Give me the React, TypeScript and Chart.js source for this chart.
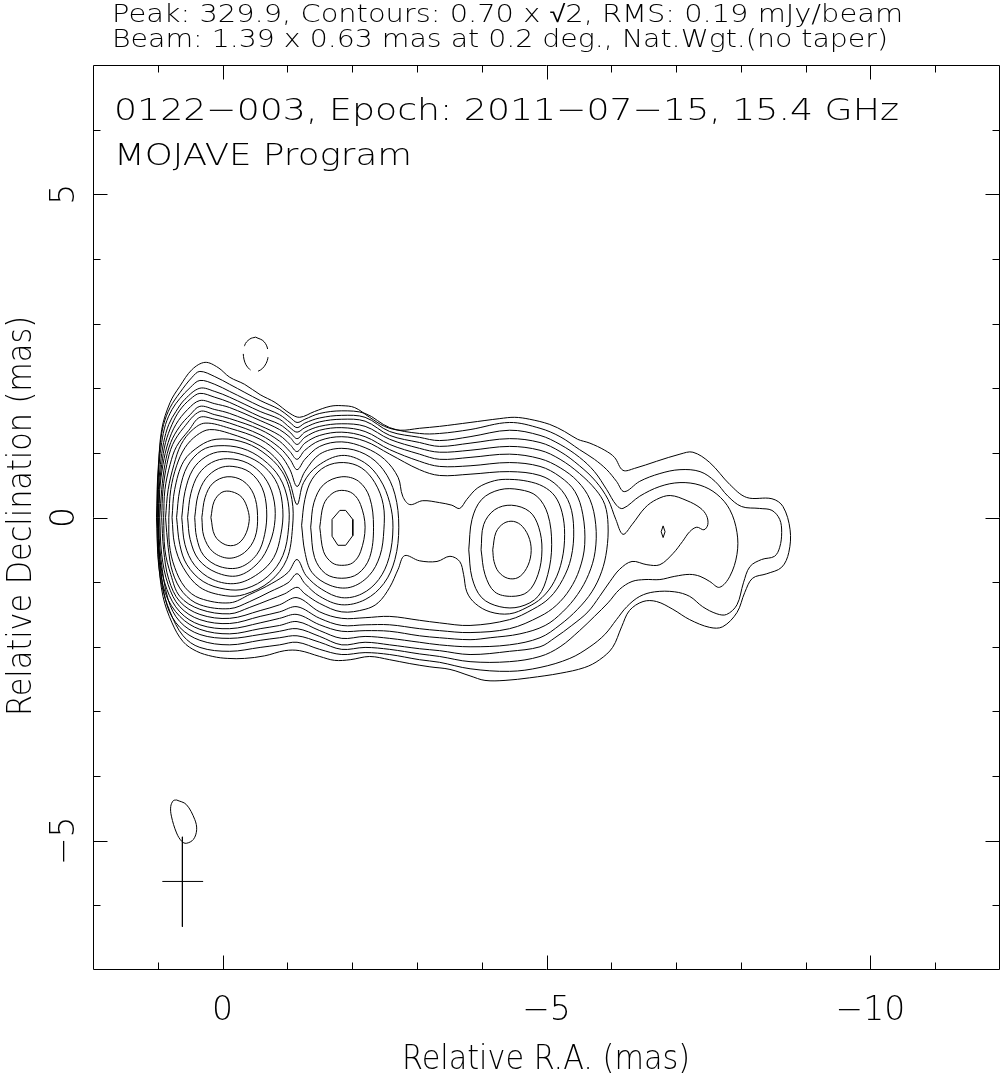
import React, { useEffect, useRef } from 'react';
import { Chart, registerables } from 'chart.js';

Chart.register(...registerables);

type P = [number, number];

// ---- Header / annotation texts ----
const headerLine1 = 'Peak: 329.9, Contours: 0.70 x √2, RMS: 0.19 mJy/beam';
const headerLine2 = 'Beam: 1.39 x 0.63 mas at 0.2 deg., Nat.Wgt.(no taper)';
const titleLine1 = '0122−003, Epoch: 2011−07−15, 15.4 GHz';
const titleLine2 = 'MOJAVE Program';
const xAxisTitle = 'Relative R.A. (mas)';
const yAxisTitle = 'Relative Declination (mas)';

// ---- Axis ranges and ticks (mas) ----
const xRange: P = [-12, 2];
const yRange: P = [-7, 7];
const xMajorTicks = [0, -5, -10];
const xTickLabels = ['0', '−5', '−10'];
const xMinorTicks = [1, -1, -2, -3, -4, -6, -7, -8, -9, -11];
const yMajorTicks = [5, 0, -5];
const yTickLabels = ['5', '0', '−5'];
const yMinorTicks = [6, 4, 3, 2, 1, -1, -2, -3, -4, -6];

// ---- Contours (relative R.A., relative Dec. in mas) ----
// envelope levels 0..10
const contourL0: P[] = [[1.02,0.00],[0.99,0.74],[0.94,1.36],[0.81,1.78],[0.66,2.03],[0.47,2.29],[0.27,2.40],[0.07,2.32],[-0.11,2.17],[-0.34,2.06],[-0.58,1.90],[-0.81,1.78],[-1.04,1.61],[-1.19,1.55],[-1.42,1.64],[-1.66,1.72],[-1.84,1.73],[-2.04,1.70],[-2.27,1.55],[-2.50,1.41],[-2.74,1.35],[-3.04,1.38],[-3.35,1.41],[-3.82,1.47],[-4.28,1.53],[-4.51,1.55],[-4.74,1.52],[-5.05,1.44],[-5.28,1.33],[-5.48,1.21],[-5.67,1.15],[-5.90,1.04],[-6.05,0.93],[-6.18,0.73],[-6.36,0.76],[-6.70,0.87],[-7.06,0.98],[-7.26,1.01],[-7.52,0.85],[-7.83,0.51],[-8.09,0.31],[-8.48,0.29],[-8.65,0.17],[-8.76,-0.19],[-8.74,-0.54],[-8.63,-0.77],[-8.40,-0.87],[-8.18,-0.94],[-8.06,-1.16],[-7.94,-1.47],[-7.72,-1.69],[-7.52,-1.70],[-7.21,-1.58],[-6.95,-1.42],[-6.70,-1.30],[-6.49,-1.30],[-6.28,-1.44],[-6.16,-1.69],[-6.02,-2.01],[-5.82,-2.20],[-5.59,-2.32],[-5.21,-2.41],[-4.74,-2.48],[-4.36,-2.52],[-4.05,-2.52],[-3.82,-2.45],[-3.51,-2.35],[-3.20,-2.31],[-2.89,-2.26],[-2.58,-2.20],[-2.27,-2.15],[-1.97,-2.20],[-1.73,-2.21],[-1.50,-2.15],[-1.19,-2.06],[-0.96,-2.06],[-0.65,-2.14],[-0.34,-2.18],[-0.08,-2.18],[0.15,-2.15],[0.40,-2.07],[0.61,-1.92],[0.78,-1.63],[0.92,-1.22],[0.99,-0.65]];
const contourL1: P[] = [[1.01,0.00],[1.01,0.43],[0.99,0.82],[0.96,1.16],[0.91,1.44],[0.81,1.70],[0.66,1.93],[0.47,2.17],[0.35,2.26],[0.12,2.18],[-0.11,2.06],[-0.58,1.81],[-0.88,1.67],[-1.04,1.55],[-1.15,1.47],[-1.27,1.52],[-1.50,1.61],[-1.84,1.65],[-2.20,1.61],[-2.58,1.39],[-3.04,1.30],[-3.35,1.30],[-3.82,1.36],[-4.43,1.47],[-4.90,1.38],[-5.21,1.25],[-5.51,1.05],[-5.74,0.90],[-5.93,0.74],[-6.08,0.56],[-6.20,0.40],[-6.44,0.56],[-6.75,0.68],[-7.06,0.74],[-7.37,0.71],[-7.60,0.56],[-7.80,0.33],[-8.01,0.17],[-8.29,0.14],[-8.48,0.11],[-8.60,-0.03],[-8.63,-0.23],[-8.60,-0.46],[-8.52,-0.60],[-8.32,-0.65],[-8.14,-0.76],[-8.04,-1.01],[-7.94,-1.35],[-7.78,-1.50],[-7.63,-1.49],[-7.41,-1.38],[-7.21,-1.22],[-6.98,-1.15],[-6.67,-1.15],[-6.44,-1.22],[-6.24,-1.38],[-6.08,-1.58],[-5.90,-1.81],[-5.67,-2.00],[-5.36,-2.18],[-4.90,-2.32],[-4.43,-2.38],[-3.82,-2.34],[-3.35,-2.24],[-3.04,-2.20],[-2.58,-2.12],[-2.20,-2.09],[-1.84,-2.12],[-1.50,-2.04],[-1.15,-1.93],[-0.88,-1.97],[-0.58,-2.01],[-0.11,-2.07],[0.35,-2.01],[0.61,-1.83],[0.81,-1.46],[0.94,-1.04],[1.00,-0.57]];
const contourL2: P[] = [[1.01,0.00],[1.00,0.43],[0.98,0.82],[0.94,1.16],[0.88,1.44],[0.78,1.67],[0.66,1.84],[0.50,2.01],[0.35,2.12],[0.12,2.06],[-0.11,1.95],[-0.58,1.72],[-0.88,1.59],[-1.04,1.47],[-1.15,1.39],[-1.27,1.46],[-1.50,1.54],[-1.84,1.58],[-2.20,1.55],[-2.58,1.33],[-3.04,1.24],[-3.35,1.19],[-3.82,1.25],[-4.43,1.35],[-4.90,1.27],[-5.21,1.13],[-5.51,0.93],[-5.74,0.71],[-5.93,0.43],[-6.08,0.19],[-6.18,0.14],[-6.44,0.33],[-6.75,0.48],[-7.06,0.54],[-7.37,0.50],[-7.63,0.36],[-7.83,0.12],[-7.94,-0.23],[-7.94,-0.57],[-7.83,-0.91],[-7.67,-1.08],[-7.52,-0.99],[-7.37,-0.91],[-7.21,-0.88],[-6.98,-0.91],[-6.75,-0.96],[-6.52,-0.96],[-6.32,-0.99],[-6.13,-1.11],[-5.95,-1.32],[-5.74,-1.53],[-5.51,-1.75],[-5.21,-2.00],[-4.90,-2.15],[-4.43,-2.23],[-3.82,-2.23],[-3.35,-2.15],[-3.04,-2.11],[-2.58,-2.04],[-2.20,-2.01],[-1.84,-2.04],[-1.50,-1.93],[-1.15,-1.83],[-0.88,-1.86],[-0.58,-1.90],[-0.11,-1.97],[0.35,-1.90],[0.66,-1.70],[0.86,-1.35],[0.97,-0.65]];
const contourL3: P[] = [[1.00,0.00],[0.99,0.43],[0.96,0.82],[0.91,1.16],[0.83,1.44],[0.72,1.64],[0.58,1.83],[0.35,2.00],[0.12,1.95],[-0.11,1.86],[-0.58,1.64],[-0.88,1.52],[-1.04,1.39],[-1.15,1.32],[-1.27,1.39],[-1.50,1.48],[-1.84,1.52],[-2.20,1.49],[-2.58,1.27],[-3.04,1.16],[-3.35,1.10],[-3.82,1.15],[-4.43,1.22],[-4.90,1.16],[-5.21,1.02],[-5.51,0.80],[-5.76,0.56],[-5.95,0.28],[-6.07,-0.03],[-6.18,-0.26],[-6.32,-0.11],[-6.52,0.15],[-6.70,0.28],[-6.91,0.34],[-7.17,0.26],[-7.37,0.15],[-7.47,0.03],[-7.49,-0.11],[-7.43,-0.19],[-7.32,-0.15],[-7.21,-0.22],[-7.10,-0.37],[-6.95,-0.56],[-6.75,-0.73],[-6.55,-0.73],[-6.32,-0.68],[-6.13,-0.80],[-5.98,-0.99],[-5.82,-1.22],[-5.64,-1.46],[-5.39,-1.67],[-5.13,-1.86],[-4.90,-2.00],[-4.43,-2.07],[-3.82,-2.12],[-3.35,-2.06],[-3.04,-2.03],[-2.58,-1.97],[-2.20,-1.93],[-1.84,-1.97],[-1.50,-1.84],[-1.15,-1.72],[-0.88,-1.76],[-0.58,-1.81],[-0.11,-1.87],[0.35,-1.81],[0.66,-1.61],[0.84,-1.27],[0.95,-0.65]];
const contourL4: P[] = [[0.99,0.00],[0.98,0.43],[0.94,0.82],[0.88,1.16],[0.78,1.44],[0.66,1.66],[0.50,1.83],[0.35,1.92],[0.12,1.86],[-0.11,1.78],[-0.58,1.56],[-0.88,1.44],[-1.04,1.32],[-1.15,1.22],[-1.27,1.32],[-1.50,1.41],[-1.84,1.45],[-2.20,1.41],[-2.58,1.21],[-3.04,1.07],[-3.35,1.01],[-3.82,1.04],[-4.43,1.10],[-4.90,1.04],[-5.21,0.90],[-5.51,0.68],[-5.76,0.43],[-5.90,0.20],[-5.95,-0.11],[-5.93,-0.50],[-5.85,-0.84],[-5.70,-1.15],[-5.48,-1.42],[-5.21,-1.66],[-4.90,-1.86],[-4.43,-1.97],[-3.82,-2.00],[-3.35,-1.97],[-3.04,-1.93],[-2.58,-1.87],[-2.20,-1.84],[-1.84,-1.87],[-1.50,-1.75],[-1.15,-1.61],[-0.88,-1.67],[-0.58,-1.72],[-0.11,-1.80],[0.35,-1.73],[0.66,-1.53],[0.88,-1.18],[0.98,-0.65]];
const contourL4Knot: P[] = [[-6.80,-0.13],[-6.83,-0.22],[-6.80,-0.31],[-6.77,-0.22]];
const contourL5: P[] = [[0.98,0.00],[0.97,0.43],[0.92,0.82],[0.84,1.16],[0.72,1.44],[0.54,1.67],[0.35,1.81],[0.12,1.76],[-0.11,1.70],[-0.58,1.50],[-0.88,1.36],[-1.04,1.24],[-1.15,1.13],[-1.27,1.24],[-1.50,1.35],[-1.84,1.39],[-2.20,1.33],[-2.58,1.13],[-3.04,0.98],[-3.35,0.90],[-3.82,0.93],[-4.43,0.98],[-4.90,0.91],[-5.21,0.77],[-5.48,0.56],[-5.67,0.28],[-5.76,-0.11],[-5.75,-0.53],[-5.65,-0.88],[-5.48,-1.19],[-5.25,-1.46],[-4.98,-1.67],[-4.59,-1.80],[-4.13,-1.86],[-3.82,-1.89],[-3.35,-1.86],[-3.04,-1.83],[-2.58,-1.76],[-2.20,-1.75],[-1.84,-1.76],[-1.50,-1.66],[-1.15,-1.50],[-0.88,-1.56],[-0.58,-1.63],[-0.11,-1.72],[0.35,-1.66],[0.66,-1.46],[0.86,-1.11],[0.97,-0.62]];
const contourL6: P[] = [[0.97,0.00],[0.94,0.43],[0.89,0.82],[0.80,1.16],[0.66,1.41],[0.50,1.59],[0.35,1.72],[0.12,1.67],[-0.11,1.61],[-0.58,1.42],[-0.88,1.27],[-1.04,1.13],[-1.15,1.02],[-1.27,1.15],[-1.50,1.27],[-1.84,1.32],[-2.20,1.25],[-2.58,1.05],[-3.04,0.87],[-3.35,0.79],[-3.82,0.80],[-4.43,0.85],[-4.90,0.79],[-5.21,0.63],[-5.44,0.40],[-5.56,0.05],[-5.59,-0.42],[-5.51,-0.80],[-5.36,-1.11],[-5.15,-1.36],[-4.90,-1.53],[-4.43,-1.72],[-3.82,-1.78],[-3.35,-1.75],[-3.04,-1.72],[-2.58,-1.66],[-2.20,-1.66],[-1.84,-1.67],[-1.50,-1.56],[-1.15,-1.38],[-0.88,-1.46],[-0.58,-1.53],[-0.11,-1.64],[0.35,-1.58],[0.66,-1.38],[0.84,-1.04],[0.94,-0.57]];
const contourL7: P[] = [[0.94,0.00],[0.92,0.43],[0.86,0.82],[0.77,1.13],[0.60,1.39],[0.35,1.64],[0.12,1.59],[-0.11,1.53],[-0.58,1.36],[-0.88,1.18],[-1.04,1.02],[-1.15,0.90],[-1.27,1.04],[-1.50,1.19],[-1.84,1.25],[-2.20,1.18],[-2.58,0.98],[-3.04,0.74],[-3.35,0.65],[-3.82,0.67],[-4.43,0.71],[-4.90,0.65],[-5.18,0.48],[-5.36,0.20],[-5.42,-0.19],[-5.38,-0.62],[-5.25,-0.96],[-5.05,-1.24],[-4.79,-1.42],[-4.43,-1.58],[-3.82,-1.67],[-3.35,-1.63],[-3.04,-1.59],[-2.58,-1.53],[-2.20,-1.55],[-1.84,-1.56],[-1.50,-1.46],[-1.15,-1.24],[-0.88,-1.35],[-0.58,-1.44],[-0.11,-1.56],[0.35,-1.50],[0.66,-1.30],[0.83,-0.96],[0.91,-0.50]];
const contourL8: P[] = [[0.91,0.00],[0.89,0.43],[0.81,0.82],[0.71,1.10],[0.52,1.35],[0.35,1.55],[0.12,1.52],[-0.11,1.46],[-0.58,1.28],[-0.88,1.08],[-1.04,0.90],[-1.15,0.74],[-1.27,0.90],[-1.50,1.10],[-1.84,1.17],[-2.20,1.08],[-2.50,0.90],[-2.71,0.62],[-2.78,0.33],[-2.89,0.20],[-3.09,0.26],[-3.35,0.23],[-3.54,0.19],[-3.66,0.14],[-3.77,0.28],[-3.94,0.46],[-4.20,0.57],[-4.43,0.59],[-4.71,0.56],[-4.95,0.48],[-5.13,0.33],[-5.24,0.08],[-5.28,-0.26],[-5.24,-0.65],[-5.12,-0.99],[-4.93,-1.24],[-4.70,-1.39],[-4.43,-1.49],[-4.13,-1.46],[-3.90,-1.33],[-3.77,-1.15],[-3.72,-0.88],[-3.66,-0.68],[-3.51,-0.60],[-3.31,-0.68],[-3.04,-0.67],[-2.81,-0.59],[-2.71,-0.80],[-2.58,-1.08],[-2.40,-1.32],[-2.20,-1.42],[-1.84,-1.46],[-1.50,-1.33],[-1.27,-1.18],[-1.15,-1.08],[-0.96,-1.18],[-0.73,-1.27],[-0.42,-1.39],[-0.11,-1.49],[0.35,-1.42],[0.66,-1.22],[0.80,-0.88],[0.89,-0.50]];
const contourL9: P[] = [[0.88,0.00],[0.84,0.43],[0.75,0.82],[0.64,1.13],[0.47,1.35],[0.27,1.46],[-0.11,1.38],[-0.58,1.21],[-0.88,0.98],[-1.04,0.74],[-1.15,0.48],[-1.27,0.71],[-1.50,0.98],[-1.84,1.07],[-2.20,0.98],[-2.48,0.74],[-2.66,0.36],[-2.72,-0.15],[-2.66,-0.65],[-2.49,-1.02],[-2.20,-1.27],[-1.84,-1.35],[-1.50,-1.22],[-1.27,-1.02],[-1.15,-0.87],[-1.01,-1.01],[-0.73,-1.15],[-0.42,-1.30],[-0.11,-1.41],[0.35,-1.35],[0.61,-1.16],[0.77,-0.85],[0.84,-0.46]];
const contourL10: P[] = [[0.83,0.00],[0.80,0.43],[0.71,0.80],[0.58,1.08],[0.40,1.27],[0.20,1.36],[-0.11,1.30],[-0.58,1.11],[-0.86,0.87],[-1.03,0.56],[-1.15,0.20],[-1.25,0.54],[-1.47,0.80],[-1.84,0.96],[-2.19,0.85],[-2.43,0.59],[-2.58,0.23],[-2.63,-0.15],[-2.57,-0.62],[-2.41,-0.96],[-2.15,-1.18],[-1.84,-1.24],[-1.53,-1.11],[-1.29,-0.90],[-1.15,-0.65],[-1.01,-0.85],[-0.76,-1.02],[-0.42,-1.19],[-0.11,-1.32],[0.35,-1.25],[0.58,-1.08],[0.74,-0.77],[0.82,-0.42]];
// core rings, levels 11..17
const coreL11: P[] = [[0.78,0.00],[0.74,0.43],[0.60,0.87],[0.35,1.11],[0.10,1.21],[-0.27,1.18],[-0.61,1.02],[-0.92,0.71],[-1.07,0.28],[-1.08,-0.15],[-0.99,-0.65],[-0.73,-0.99],[-0.34,-1.19],[-0.04,-1.21],[0.35,-1.08],[0.61,-0.77],[0.74,-0.42]];
const coreL12: P[] = [[0.71,0.00],[0.66,0.43],[0.54,0.80],[0.32,1.04],[0.07,1.11],[-0.30,1.07],[-0.62,0.90],[-0.88,0.62],[-1.01,0.25],[-1.02,-0.15],[-0.93,-0.59],[-0.70,-0.91],[-0.36,-1.10],[-0.05,-1.11],[0.30,-0.99],[0.55,-0.73],[0.66,-0.42]];
const coreL13: P[] = [[0.63,0.00],[0.58,0.40],[0.46,0.74],[0.26,0.94],[0.01,1.02],[-0.34,0.96],[-0.64,0.79],[-0.85,0.51],[-0.93,0.12],[-0.90,-0.26],[-0.79,-0.62],[-0.55,-0.87],[-0.21,-1.02],[0.15,-0.96],[0.43,-0.74],[0.58,-0.42]];
const coreL14: P[] = [[0.54,0.00],[0.49,0.37],[0.37,0.67],[0.17,0.85],[-0.08,0.91],[-0.39,0.84],[-0.64,0.63],[-0.78,0.33],[-0.81,-0.03],[-0.73,-0.39],[-0.55,-0.70],[-0.24,-0.90],[0.10,-0.85],[0.37,-0.65],[0.50,-0.34]];
const coreL15: P[] = [[0.43,0.00],[0.38,0.34],[0.26,0.60],[0.06,0.76],[-0.16,0.79],[-0.42,0.70],[-0.61,0.46],[-0.68,0.12],[-0.65,-0.26],[-0.53,-0.57],[-0.27,-0.77],[0.04,-0.76],[0.29,-0.59],[0.40,-0.31]];
const coreL16: P[] = [[0.32,0.00],[0.27,0.31],[0.15,0.53],[-0.07,0.63],[-0.31,0.57],[-0.48,0.36],[-0.54,0.03],[-0.50,-0.31],[-0.34,-0.54],[-0.10,-0.63],[0.15,-0.53],[0.29,-0.29]];
const coreL17: P[] = [[0.18,0.00],[0.13,0.25],[0.01,0.39],[-0.14,0.40],[-0.30,0.31],[-0.39,0.12],[-0.41,-0.06],[-0.34,-0.29],[-0.21,-0.42],[-0.04,-0.42],[0.12,-0.28]];
// component at -1.8 mas, levels 11..14
const knot2L11: P[] = [[-1.22,-0.12],[-1.27,0.28],[-1.38,0.59],[-1.59,0.79],[-1.87,0.85],[-2.14,0.77],[-2.35,0.54],[-2.48,0.20],[-2.49,-0.19],[-2.43,-0.59],[-2.26,-0.90],[-1.97,-1.08],[-1.66,-1.05],[-1.38,-0.85],[-1.27,-0.53]];
const knot2L12: P[] = [[-1.36,-0.15],[-1.41,0.23],[-1.56,0.51],[-1.84,0.63],[-2.10,0.56],[-2.27,0.31],[-2.33,-0.15],[-2.27,-0.62],[-2.09,-0.87],[-1.84,-0.94],[-1.59,-0.87],[-1.42,-0.62]];
const knot2L13: P[] = [[-1.50,-0.15],[-1.56,0.20],[-1.69,0.37],[-1.84,0.42],[-2.01,0.37],[-2.13,0.20],[-2.20,-0.15],[-2.13,-0.53],[-2.01,-0.70],[-1.84,-0.74],[-1.69,-0.70],[-1.56,-0.53]];
const knot2L14: P[] = [[-1.81,0.11],[-1.90,0.11],[-2.01,-0.03],[-2.01,-0.28],[-1.90,-0.43],[-1.78,-0.43],[-1.69,-0.29],[-1.69,-0.03]];
// component at -4.5 mas, levels 9..11
const knot3L9: P[] = [[-3.80,-0.50],[-3.85,-0.03],[-4.00,0.28],[-4.28,0.43],[-4.59,0.43],[-4.85,0.33],[-5.02,0.05],[-5.08,-0.42],[-5.02,-0.88],[-4.87,-1.22],[-4.59,-1.38],[-4.28,-1.38],[-4.00,-1.24],[-3.85,-0.93]];
const knot3L10: P[] = [[-3.99,-0.50],[-4.03,-0.11],[-4.20,0.12],[-4.46,0.19],[-4.74,0.09],[-4.88,-0.15],[-4.93,-0.50],[-4.87,-0.88],[-4.71,-1.15],[-4.46,-1.22],[-4.20,-1.15],[-4.05,-0.88]];
const knot3L11: P[] = [[-4.17,-0.50],[-4.22,-0.23],[-4.34,-0.09],[-4.49,-0.06],[-4.63,-0.14],[-4.74,-0.34],[-4.76,-0.57],[-4.69,-0.79],[-4.56,-0.93],[-4.40,-0.94],[-4.26,-0.84],[-4.19,-0.68]];
// negative (dashed) contour
const negativeContour: P[] = [[-0.51,2.79],[-0.64,2.72],[-0.70,2.57],[-0.67,2.38],[-0.54,2.26],[-0.42,2.29],[-0.33,2.45],[-0.34,2.66],[-0.42,2.76]];
// restoring beam and its cross
const beamEllipse: P[] = [[0.71,-4.37],[0.56,-4.44],[0.43,-4.67],[0.40,-4.83],[0.45,-4.98],[0.56,-5.04],[0.63,-5.01],[0.71,-4.88],[0.79,-4.62],[0.80,-4.47],[0.76,-4.38]];
const beamCrossV: P[] = [[0.62,-4.94],[0.62,-6.33]];
const beamCrossH: P[] = [[0.93,-5.63],[0.30,-5.63]];

const smoothClosed: P[][] = [
  contourL0, contourL1, contourL2, contourL3, contourL4, contourL5, contourL6,
  contourL7, contourL8, contourL9, contourL10,
  coreL11, coreL12, coreL13, coreL14, coreL15, coreL16, coreL17,
  knot2L11, knot2L12, knot2L13, knot3L9, knot3L10, knot3L11, beamEllipse,
];
const sharpClosed: P[][] = [knot2L14, contourL4Knot];

const FONT = '"DejaVu Sans", sans-serif';

function toPts(arr: P[], close: boolean) {
  const pts = arr.map(([x, y]) => ({ x, y }));
  if (close) pts.push({ x: arr[0][0], y: arr[0][1] });
  return pts;
}

function drawText(
  ctx: CanvasRenderingContext2D,
  text: string,
  x: number,
  y: number,
  size: number,
  opts: { width?: number; align?: 'left' | 'center'; rotate?: number } = {}
) {
  ctx.save();
  ctx.font = `200 ${size}px ${FONT}`;
  ctx.fillStyle = '#000';
  ctx.textBaseline = 'alphabetic';
  ctx.textAlign = 'left';
  const w = ctx.measureText(text).width;
  const sx = opts.width ? opts.width / w : 1;
  ctx.translate(x, y);
  if (opts.rotate) ctx.rotate(opts.rotate);
  ctx.scale(sx, 1);
  ctx.fillText(text, opts.align === 'center' ? -w / 2 : 0, 0);
  ctx.restore();
}

const framePlugin = {
  id: 'pgplotFrame',
  afterDraw(chart: any) {
    const { ctx, chartArea: a, scales } = chart;
    const xs = scales.x;
    const ys = scales.y;
    ctx.save();
    ctx.strokeStyle = '#000';
    ctx.lineWidth = 1;
    const L = a.left + 0.5, R = a.right - 0.5, T = a.top + 0.5, B = a.bottom - 0.5;
    ctx.beginPath();
    ctx.moveTo(L, T); ctx.lineTo(R, T); ctx.lineTo(R, B); ctx.lineTo(L, B); ctx.closePath();
    const major = 14, minor = 7;
    const xt = (v: number, len: number) => {
      const p = Math.round(xs.getPixelForValue(v)) + 0.5;
      ctx.moveTo(p, B); ctx.lineTo(p, B - len);
      ctx.moveTo(p, T); ctx.lineTo(p, T + len);
    };
    const yt = (v: number, len: number) => {
      const p = Math.round(ys.getPixelForValue(v)) + 0.5;
      ctx.moveTo(L, p); ctx.lineTo(L + len, p);
      ctx.moveTo(R, p); ctx.lineTo(R - len, p);
    };
    xMajorTicks.forEach((v) => xt(v, major));
    xMinorTicks.forEach((v) => xt(v, minor));
    yMajorTicks.forEach((v) => yt(v, major));
    yMinorTicks.forEach((v) => yt(v, minor));
    ctx.stroke();
    ctx.restore();

    xMajorTicks.forEach((v, i) => {
      drawText(ctx, xTickLabels[i], xs.getPixelForValue(v), 1020, 33, { align: 'center' });
    });
    yMajorTicks.forEach((v, i) => {
      drawText(ctx, yTickLabels[i], 74, ys.getPixelForValue(v), 33, { align: 'center', rotate: -Math.PI / 2 });
    });
    drawText(ctx, xAxisTitle, 546, 1069, 33, { align: 'center', width: 288 });
    drawText(ctx, yAxisTitle, 31, 516, 34, { align: 'center', width: 400, rotate: -Math.PI / 2 });
    drawText(ctx, headerLine1, 112, 22, 24, { width: 791 });
    drawText(ctx, headerLine2, 112, 47, 24, { width: 776 });
    drawText(ctx, titleLine1, 114, 120, 31, { width: 785 });
    drawText(ctx, titleLine2, 114, 165, 31, { width: 298 });
  },
};

export default function App() {
  const ref = useRef<HTMLCanvasElement>(null);
  useEffect(() => {
    const line = { borderColor: '#000', borderWidth: 1, pointRadius: 0, pointHoverRadius: 0, showLine: true, fill: false };
    const datasets: any[] = [
      ...smoothClosed.map((c) => ({ ...line, data: toPts(c, true), tension: 0.35 })),
      ...sharpClosed.map((c) => ({ ...line, data: toPts(c, true), tension: 0 })),
      { ...line, data: toPts(negativeContour, true), tension: 0.4, borderDash: [18, 8] },
      { ...line, data: toPts(beamCrossV, false), tension: 0 },
      { ...line, data: toPts(beamCrossH, false), tension: 0 },
    ];
    const chart = new Chart(ref.current as HTMLCanvasElement, {
      type: 'scatter',
      data: { datasets },
      options: {
        animation: false,
        responsive: false,
        devicePixelRatio: 1,
        events: [],
        layout: { padding: { left: 93, top: 65, right: 1, bottom: 109 } },
        plugins: { legend: { display: false }, tooltip: { enabled: false }, title: { display: false } },
        scales: {
          x: { type: 'linear', min: xRange[0], max: xRange[1], reverse: true, display: false },
          y: { type: 'linear', min: yRange[0], max: yRange[1], display: false },
        },
      },
      plugins: [framePlugin],
    } as any);
    return () => chart.destroy();
  }, []);
  return (
    <div style={{ position: 'absolute', left: 0, top: 0, width: 1001, height: 1079, background: '#fff' }}>
      <canvas ref={ref} width={1001} height={1079} style={{ display: 'block' }} />
    </div>
  );
}
